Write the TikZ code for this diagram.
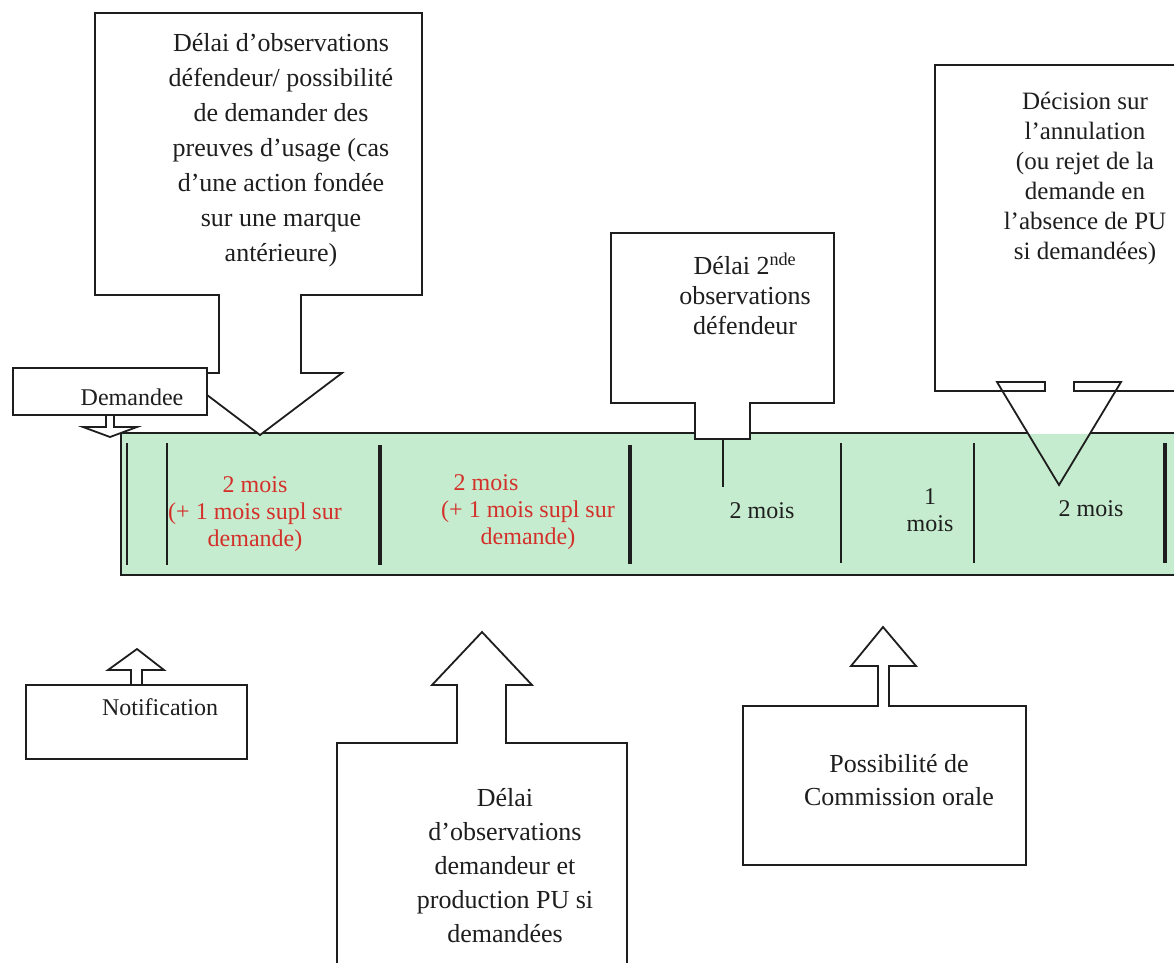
\documentclass[tikz,border=0pt]{standalone}
\usepackage{fontspec}
\setmainfont{Liberation Serif}
\definecolor{barfill}{RGB}{197,236,207}
\definecolor{redtxt}{RGB}{212,48,42}
\definecolor{inkc}{RGB}{30,30,30}
\begin{document}
\begin{tikzpicture}[x=1pt,y=-1pt,
  outl/.style={draw=inkc,line width=1.8pt,line join=miter},
  boxw/.style={outl,fill=white},
  thinln/.style={draw=inkc,line width=1.6pt},
  thickln/.style={draw=inkc,line width=3.2pt},
  ctext/.style={align=center,inner sep=0pt,text=inkc},
  rtext/.style={align=center,inner sep=0pt,text=redtxt,font=\fontsize{24}{27}\selectfont},
  btext/.style={align=center,inner sep=0pt,text=inkc,font=\fontsize{24}{27}\selectfont}]
\useasboundingbox (0,0) rectangle (1174,962);
\fill[white] (0,0) rectangle (1174,962);

% timeline bar
\fill[barfill] (121,433) rectangle (1190,575);
\draw[outl] (1190,433) -- (121,433) -- (121,575) -- (1190,575);
\draw[thinln] (127,443) -- (127,565);
\draw[thinln,line width=2.2pt] (167,443) -- (167,565);
\draw[thickln] (380,445) -- (380,565);
\draw[thickln] (630,445) -- (630,564);
\draw[thinln] (841,443) -- (841,563);
\draw[thinln] (974,443) -- (974,563);
\draw[thickln] (1165,443) -- (1165,563);

% big callout (left)
\draw[boxw] (95,13) -- (422,13) -- (422,295) -- (301,295) -- (301,373) -- (342,373)
  -- (260,435) -- (178,373) -- (219,373) -- (219,295) -- (95,295) -- cycle;

% Demandee box and arrow
\draw[boxw] (106,415) -- (106,427) -- (83,427) -- (110,437) -- (137,427) -- (114,427) -- (114,415);
\draw[boxw] (13,368) rectangle (207,415);

% second observations callout
\draw[boxw] (611,233) -- (834,233) -- (834,403) -- (750,403) -- (750,439) -- (695,439)
  -- (695,403) -- (611,403) -- cycle;
\coordinate (stemA) at (723,439);
\coordinate (stemB) at (723,487);
\draw[thinln,line width=1.3pt] (stemA) -- (stemB);

% decision callout
\fill[white] (997,382) -- (1121,382) -- (1059,485) -- cycle;
\begin{scope}
  \clip (900,434) rectangle (1174,575);
  \fill[barfill] (997,382) -- (1121,382) -- (1059,485) -- cycle;
\end{scope}
\fill[white] (935,65) rectangle (1190,391);
\draw[outl] (1190,391) -- (1074,391) -- (1074,382) -- (1121,382)
  -- (1059,485) -- (997,382) -- (1045,382) -- (1045,391) -- (935,391) -- (935,65) -- (1190,65);

% Notification
\draw[boxw] (131,686) -- (131,670) -- (108,670) -- (137,649) -- (164,670) -- (142,670) -- (142,686);
\draw[boxw] (26,685) rectangle (247,759);

% bottom middle callout
\draw[boxw] (337,975) -- (337,743) -- (457,743) -- (457,685) -- (432,685) -- (482,632)
  -- (532,685) -- (506,685) -- (506,743) -- (627,743) -- (627,975);

% Possibilite callout
\draw[boxw] (743,706) -- (878,706) -- (878,666) -- (851,666) -- (883,627) -- (916,666)
  -- (889,666) -- (889,706) -- (1026,706) -- (1026,865) -- (743,865) -- cycle;

% texts
\node[ctext,font=\fontsize{26}{35}\selectfont] (t1) at (281,150)
  {Délai d’observations\\défendeur/ possibilité\\de demander des\\preuves d’usage (cas\\d’une action fondée\\sur une marque\\antérieure)};
\node[btext] (dem) at (132,397) {Demandee};
\node[rtext] (r1) at (255,514) {2 mois\\(+ 1 mois supl sur\\demande)};
\node[rtext] (r2) at (528,512) {2 mois\hspace*{84pt}\\(+ 1 mois supl sur\\demande)};
\node[btext] (m3) at (762,511) {2 mois};
\node[btext] (m4) at (930,510) {1\\mois};
\node[btext] (m5) at (1091,509) {2 mois};
\node[ctext,font=\fontsize{26}{30}\selectfont] (t2) at (745,294)
  {Délai 2\textsuperscript{nde}\\observations\\défendeur};
\node[ctext,font=\fontsize{25}{30}\selectfont] (t3) at (1085,178)
  {Décision sur\\l’annulation\\(ou rejet de la\\demande en\\l’absence de PU\\si demandées)};
\node[btext] (notif) at (160,707) {Notification};
\node[ctext,font=\fontsize{26}{34}\selectfont] (t4) at (505,866)
  {Délai\\d’observations\\demandeur et\\production PU si\\demandées};
\node[ctext,font=\fontsize{26}{33}\selectfont] (t5) at (899,780)
  {Possibilité de\\Commission orale};
\end{tikzpicture}
\end{document}
